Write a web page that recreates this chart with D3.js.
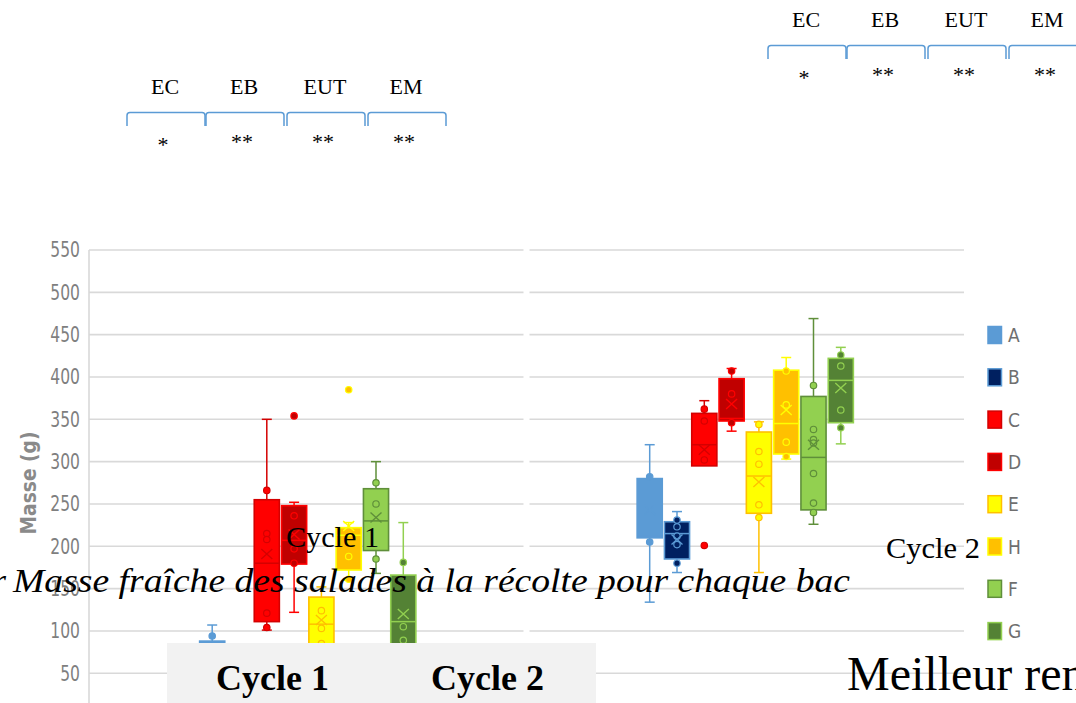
<!DOCTYPE html>
<html>
<head>
<meta charset="utf-8">
<script src="https://cdn.jsdelivr.net/npm/d3@7"></script>
<style>
  html, body { margin: 0; padding: 0; background: #ffffff; overflow: hidden; }
  svg { display: block; }
</style>
</head>
<body>
<svg id="fig" width="1076" height="703"></svg>
<script>
// ---- data ---------------------------------------------------------------
const cycles = ["Cycle 1", "Cycle 2"];
const bacs = ["A", "B", "C", "D", "E", "H", "F", "G"];
const fillColors = ["#5b9bd5", "#002060", "#ff0000", "#c00000", "#ffff00", "#ffc000", "#92d050", "#548235"];
const lineColors = ["#5b9bd5", "#5b9bd5", "#d40000", "#ff0000", "#ffc000", "#ffff00", "#5f8f3a", "#92d050"];

// five-number summaries per bac: [min, q1, median, q3, max] (g)
const cycle1Box = [
  [45, 60, 72, 88, 107],
  [30, 45, 58, 68, 78],
  [101, 111, 180, 255, 350],
  [122, 179, 207, 248, 252],
  [50, 72, 108, 140, 152],
  [160, 172, 213, 222, 228],
  [168, 195, 230, 268, 300],
  [60, 75, 111, 166, 228]
];
const cycle1Mean = [75, 57, 191, 214, 113, 224, 234, 120];
const cycle1Points = [
  [94, 78, 66],
  [35, 50, 62, 70],
  [266, 215, 208, 121, 104],
  [354, 236, 197, 180],
  [124, 103, 85],
  [385, 188, 161],
  [275, 250, 185],
  [181, 105, 89]
];

const cycle2Box = [
  [134, 210, 212, 280, 320],
  [169, 185, 215, 229, 241],
  [295, 295, 320, 357, 372],
  [336, 348, 351, 398, 410],
  [169, 239, 283, 335, 347],
  [303, 309, 345, 408, 423],
  [226, 243, 305, 377, 469],
  [321, 346, 396, 422, 435]
];
const cycle2Mean = [243, 208, 314, 368, 276, 361, 320, 387];
const cycle2Points = [
  [282, 205],
  [231, 223, 212, 202, 180],
  [362, 348, 302, 201],
  [407, 380, 346],
  [344, 312, 297, 249, 234],
  [407, 367, 323, 306],
  [390, 338, 326, 322, 286, 251, 240],
  [426, 413, 361, 340]
];

const yTicks = [0, 50, 100, 150, 200, 250, 300, 350, 400, 450, 500, 550];

const tests = ["EC", "EB", "EUT", "EM"];
const significance = ["*", "**", "**", "**"];

// ---- layout -------------------------------------------------------------
const svg = d3.select("#fig");
const SANS = "'Liberation Sans Narrow', 'DejaVu Sans Condensed', 'Liberation Sans', sans-serif";
const SERIF = "'Liberation Serif', 'DejaVu Serif', serif";
const plotLeft = 89, plotRight = 964;

const y = d3.scaleLinear().domain([0, 550]).range([715.6, 250]);
const x = d3.scaleBand().domain(cycles).range([plotLeft, plotRight]);
const groupW = 218.4;
const xi = d3.scaleBand().domain(bacs)
  .range([(x.bandwidth() - groupW) / 2, (x.bandwidth() + groupW) / 2])
  .paddingInner(0.08).paddingOuter(0.04);

// gridlines, one run per cycle band
const grid = svg.append("g");
cycles.forEach((c, ci) => {
  const x0 = x(c) + (ci === 0 ? 0 : 3);
  const x1 = x(c) + x.bandwidth() - (ci === 0 ? 3 : 0);
  grid.selectAll(null).data(yTicks.filter(t => t > 0)).join("line")
    .attr("x1", x0).attr("x2", x1)
    .attr("y1", d => y(d)).attr("y2", d => y(d))
    .attr("stroke", "#d9d9d9").attr("stroke-width", 1.6);
});
grid.append("line")
  .attr("x1", plotLeft).attr("x2", plotLeft)
  .attr("y1", y(550)).attr("y2", y(0))
  .attr("stroke", "#d9d9d9").attr("stroke-width", 1.6);

// y axis labels (narrow digits)
const yAxis = svg.append("g")
  .attr("transform", `translate(${plotLeft},0)`)
  .call(d3.axisLeft(y).tickValues(yTicks).tickSize(0).tickPadding(9));
yAxis.select(".domain").remove();
yAxis.selectAll("text")
  .attr("font-family", SANS).attr("font-size", 21)
  .attr("fill", "#7f7f7f")
  .attr("textLength", function () { return this.textContent.length * 9.9; })
  .attr("lengthAdjust", "spacingAndGlyphs");

svg.append("text")
  .attr("transform", `translate(36,${483}) rotate(-90)`)
  .attr("text-anchor", "middle")
  .attr("font-family", SANS).attr("font-size", 21).attr("font-weight", "bold")
  .attr("fill", "#8a8a8a")
  .attr("textLength", 103).attr("lengthAdjust", "spacingAndGlyphs")
  .text("Masse (g)");

// box and whisker marks
const cycleData = [
  { box: cycle1Box, mean: cycle1Mean, points: cycle1Points },
  { box: cycle2Box, mean: cycle2Mean, points: cycle2Points }
];
const marks = svg.append("g");
cycles.forEach((c, ci) => {
  const cd = cycleData[ci];
  bacs.forEach((b, bi) => {
    const [mn, q1, med, q3, mx] = cd.box[bi];
    const w = xi.bandwidth();
    const left = x(c) + xi(b);
    const cx = left + w / 2;
    const fc = fillColors[bi], lc = lineColors[bi];
    const g = marks.append("g");
    const capW = 5;
    // whiskers
    g.append("line").attr("x1", cx).attr("x2", cx).attr("y1", y(mx)).attr("y2", y(q3))
      .attr("stroke", lc).attr("stroke-width", 1.5);
    g.append("line").attr("x1", cx).attr("x2", cx).attr("y1", y(q1)).attr("y2", y(mn))
      .attr("stroke", lc).attr("stroke-width", 1.5);
    [mn, mx].forEach(v => {
      if (v !== q1 && v !== q3) {
        g.append("line").attr("x1", cx - capW).attr("x2", cx + capW)
          .attr("y1", y(v)).attr("y2", y(v))
          .attr("stroke", lc).attr("stroke-width", 1.5);
      }
    });
    // box
    g.append("rect").attr("x", left).attr("width", w)
      .attr("y", y(q3)).attr("height", y(q1) - y(q3))
      .attr("fill", fc).attr("stroke", lc).attr("stroke-width", 1.6);
    // median
    g.append("line").attr("x1", left).attr("x2", left + w)
      .attr("y1", y(med)).attr("y2", y(med))
      .attr("stroke", lc).attr("stroke-width", 1.5);
    // data points
    g.selectAll("circle").data(cd.points[bi]).join("circle")
      .attr("cx", cx).attr("cy", d => y(d)).attr("r", 3.2)
      .attr("fill", fc).attr("stroke", lc).attr("stroke-width", 1.2);
    // mean marker
    const m = y(cd.mean[bi]), hx = 5.5, hy = 5;
    g.append("path")
      .attr("d", `M${cx - hx},${m - hy}L${cx + hx},${m + hy}M${cx - hx},${m + hy}L${cx + hx},${m - hy}`)
      .attr("stroke", lc).attr("stroke-width", 1.4).attr("fill", "none");
  });
});

// legend
const legend = svg.append("g");
bacs.forEach((b, i) => {
  const cy = 335 + i * 42.3;
  legend.append("rect").attr("x", 988).attr("y", cy - 8.5).attr("width", 13.5).attr("height", 17)
    .attr("fill", fillColors[i]).attr("stroke", lineColors[i]).attr("stroke-width", 1.5);
  legend.append("text").attr("x", 1008).attr("y", cy + 7)
    .attr("font-family", SANS).attr("font-size", 19).attr("fill", "#6f6f6f")
    .text(b);
});

// shaded cycle header strip
svg.append("rect").attr("x", 167).attr("y", 643).attr("width", 429).attr("height", 60)
  .attr("fill", "#f2f2f2");
[["Cycle 1", 272.5], ["Cycle 2", 487.5]].forEach(([t, cx]) => {
  svg.append("text").attr("x", cx).attr("y", 690).attr("text-anchor", "middle")
    .attr("font-family", SERIF).attr("font-weight", "bold").attr("font-size", 36)
    .attr("fill", "#000").text(t);
});

// caption and annotations
svg.append("text").attr("x", 6).attr("y", 592).attr("text-anchor", "end")
  .attr("font-family", SERIF).attr("font-style", "italic").attr("font-size", 34)
  .attr("fill", "#000").text("r");
svg.append("text").attr("x", 13).attr("y", 592)
  .attr("font-family", SERIF).attr("font-style", "italic").attr("font-size", 34)
  .attr("textLength", 837).attr("lengthAdjust", "spacingAndGlyphs")
  .attr("fill", "#000").text("Masse fraîche des salades à la récolte pour chaque bac");

svg.append("text").attr("x", 286).attr("y", 547)
  .attr("font-family", SERIF).attr("font-size", 30)
  .attr("textLength", 93).attr("lengthAdjust", "spacingAndGlyphs")
  .attr("fill", "#000").text("Cycle 1");
svg.append("text").attr("x", 886).attr("y", 558)
  .attr("font-family", SERIF).attr("font-size", 30)
  .attr("textLength", 94).attr("lengthAdjust", "spacingAndGlyphs")
  .attr("fill", "#000").text("Cycle 2");

svg.append("text").attr("x", 847).attr("y", 690)
  .attr("font-family", SERIF).attr("font-size", 48)
  .attr("fill", "#000").text("Meilleur rendement");

// significance brackets (two copies)
const bracketX = [[127, 205], [206, 284], [287, 365], [368, 446]];
function drawBrackets(dx, dy) {
  const g = svg.append("g").attr("transform", `translate(${dx},${dy})`);
  const top = 112.5, bottom = 126, r = 3;
  tests.forEach((t, i) => {
    const [a, b] = bracketX[i];
    g.append("path")
      .attr("d", `M${a},${bottom}L${a},${top + r}Q${a},${top} ${a + r},${top}L${b - r},${top}Q${b},${top} ${b},${top + r}L${b},${bottom}`)
      .attr("fill", "none").attr("stroke", "#5b9bd5").attr("stroke-width", 1.5);
    const cx = (a + b) / 2;
    g.append("text").attr("x", cx - 1).attr("y", 94).attr("text-anchor", "middle")
      .attr("font-family", SERIF).attr("font-size", 22).attr("fill", "#000").text(t);
    g.append("text").attr("x", cx - 3).attr("y", significance[i] === "*" ? 152 : 149)
      .attr("text-anchor", "middle")
      .attr("font-family", SERIF).attr("font-size", 22).attr("fill", "#000").text(significance[i]);
  });
}
drawBrackets(0, 0);
drawBrackets(641, -67);
</script>
</body>
</html>
